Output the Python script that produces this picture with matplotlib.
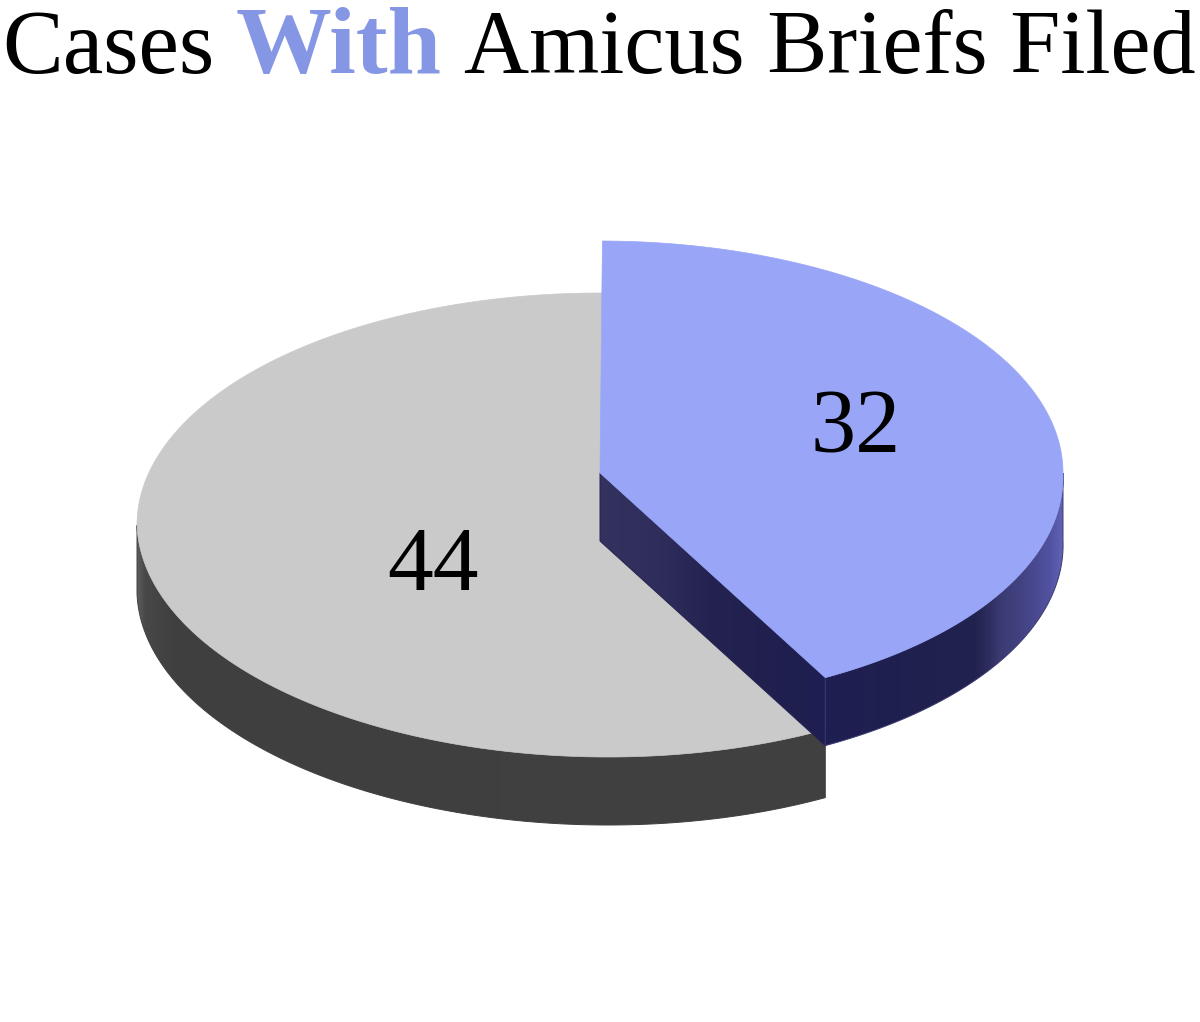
import numpy as np
import matplotlib
matplotlib.use("Agg")
import matplotlib.pyplot as plt
from matplotlib.colors import to_rgb
from matplotlib.patches import Polygon

categories = ["With", "Without"]
values = [32, 44]
title_parts = ["Cases", "With", "Amicus Briefs Filed"]

TOP_BLUE, TOP_GREY = "#99a6f8", "#cacaca"
RX, RY, DEPTH = 463, 232, 68
CX = 600
BLUE_CY, GREY_CY = 473, 525
START = 0.3
FRONT_SHIFT = 8

plt.rcParams["font.family"] = ["Liberation Serif", "DejaVu Serif"]
fig = plt.figure(figsize=(12, 10.22), dpi=100)
ax = fig.add_axes([0, 0, 1, 1])


def rim(theta_deg, cy):
    t = np.radians(theta_deg)
    return CX + RX * np.sin(t) + FRONT_SHIFT * np.maximum(0, -np.cos(t)), cy - RY * np.cos(t)


def shaded(pts, stops, z):
    """Fill a polygon with a left-to-right shading."""
    x0, x1 = pts[:, 0].min() - 2, pts[:, 0].max() + 2
    y0, y1 = pts[:, 1].min() - 2, pts[:, 1].max() + 2
    xs = np.linspace(x0, x1, 600)
    cols = np.array([to_rgb(s[1]) for s in stops])
    row = np.stack([np.interp(xs, [s[0] for s in stops], cols[:, i]) for i in range(3)], axis=1)
    im = ax.imshow(row[None, :, :], extent=(x0, x1, y1, y0), aspect="auto",
                   interpolation="bilinear", zorder=z)
    poly = Polygon(pts, closed=True, transform=ax.transData)
    im.set_clip_path(poly)
    # soft outline in the dark shade hides the stair-steps of the clip
    ax.add_patch(Polygon(pts, closed=True, fill=False, edgecolor=stops[len(stops) // 2][1],
                         linewidth=0.7, zorder=z))


def wall_pts(th, cy):
    x, y = rim(th, cy)
    return np.vstack([np.column_stack([x, y]), np.column_stack([x, y + DEPTH])[::-1]])


def top(th, cy, colour, z):
    x, y = rim(th, cy)
    pts = np.vstack([[CX, cy], np.column_stack([x, y])])
    ax.add_patch(Polygon(pts, closed=True, facecolor=colour,
                         edgecolor=colour, linewidth=0.5, zorder=z))


sweep = 360 * values[0] / sum(values)
end = START + sweep

# grey slice
th_grey = np.linspace(end, 360 + START, 400)
shaded(wall_pts(th_grey[th_grey <= 270], GREY_CY),
       [(137, "#5c5c5c"), (145, "#484848"), (175, "#3f3f3f"), (827, "#414141")], 1)
top(th_grey, GREY_CY, TOP_GREY, 2)

# blue slice: cut face
xe, ye = rim(end, BLUE_CY)
cut = np.array([[CX, BLUE_CY], [xe, ye], [xe, ye + DEPTH], [CX, BLUE_CY + DEPTH]])
shaded(cut, [(600, "#34335f"), (660, "#2e2d5c"), (710, "#232250"),
             (800, "#1f1f4f"), (825, "#1e1e55")], 3)

# blue slice: outer wall and top
shaded(wall_pts(np.linspace(90, end, 200), BLUE_CY),
       [(825, "#1e1e52"), (900, "#20204f"), (975, "#22224f"), (990, "#2e2e60"),
        (1000, "#3a3a72"), (1030, "#46468a"), (1050, "#5252a2"), (1063, "#6262b4")], 4)
top(np.linspace(START, end, 200), BLUE_CY, TOP_BLUE, 5)

# value labels
ax.text(856, 452, str(values[0]), fontsize=65, ha="center", va="baseline", zorder=6)
ax.text(433, 590, str(values[1]), fontsize=66, ha="center", va="baseline", zorder=6)

# title
ax.text(2, 73, title_parts[0], fontsize=65.5, color="black", va="baseline")
ax.text(236, 73, title_parts[1], fontsize=69, color="#8596e4", fontweight="bold", va="baseline")
ax.text(464, 73, title_parts[2], fontsize=65, color="black", va="baseline")

ax.set_xlim(0, 1200)
ax.set_ylim(1022, 0)
ax.axis("off")
fig.savefig("out.png", dpi=100, facecolor="white")
